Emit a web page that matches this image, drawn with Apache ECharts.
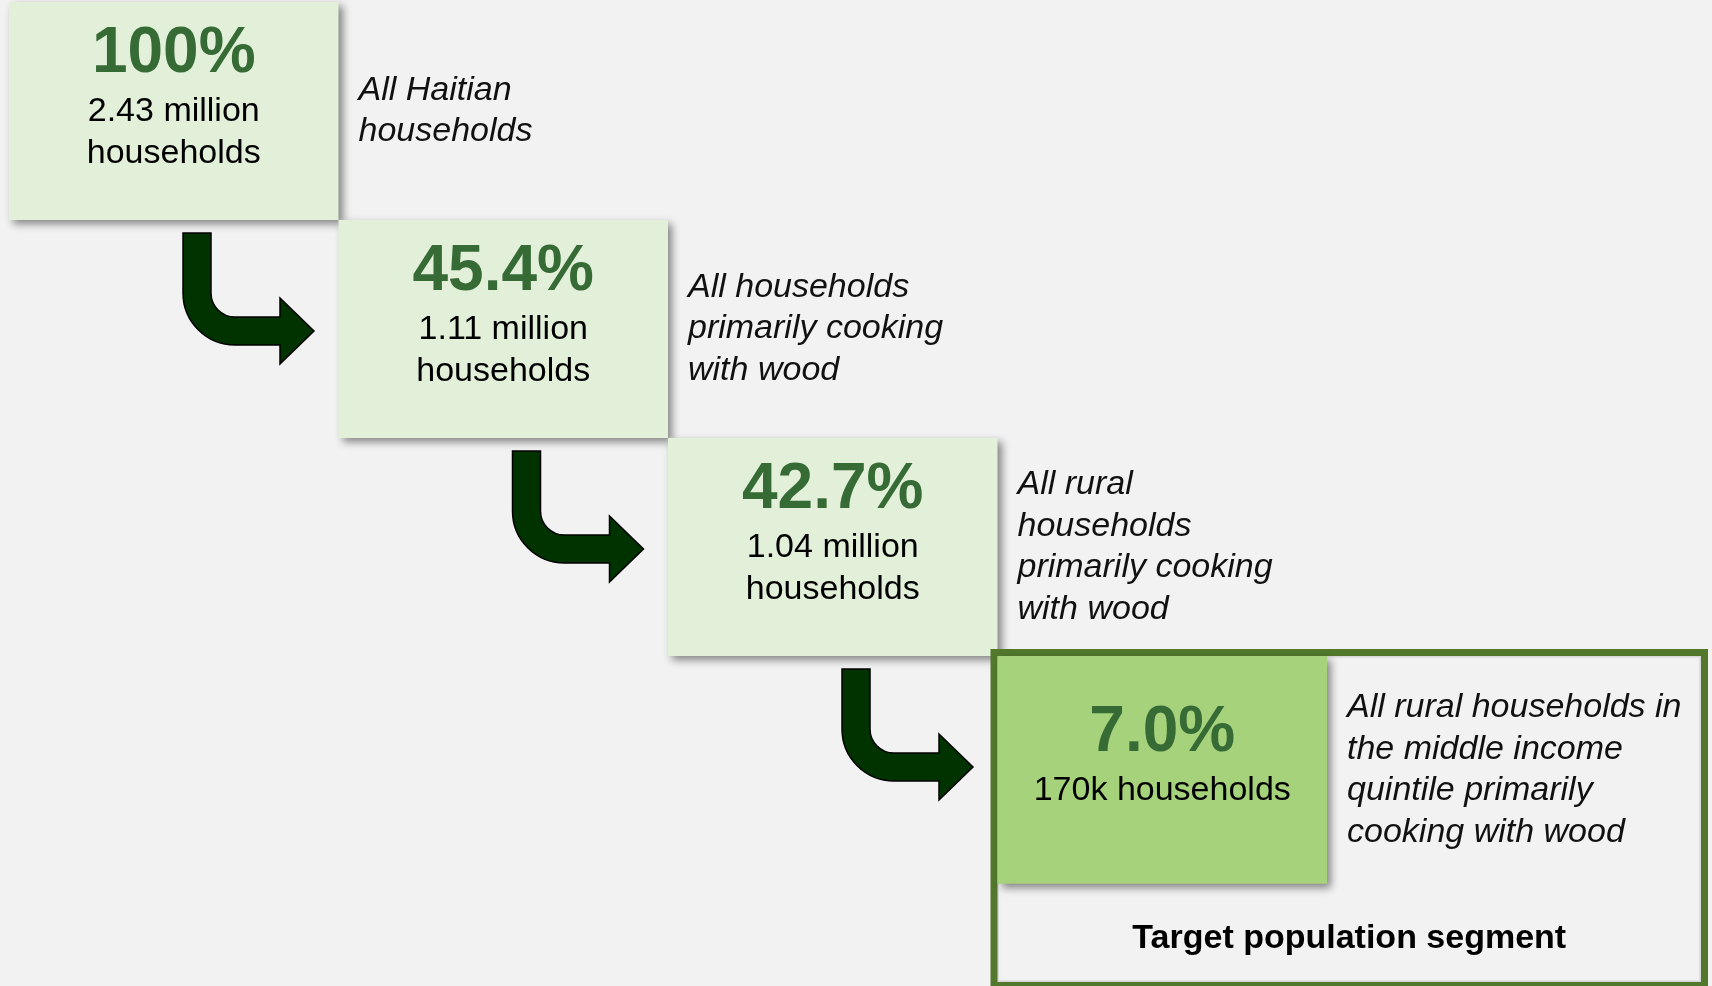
<!DOCTYPE html>
<html>
<head>
<meta charset="utf-8">
<title>Haiti household segmentation</title>
<script src="https://cdn.jsdelivr.net/npm/echarts@6/dist/echarts.min.js"></script>
<style>
  html, body { margin: 0; padding: 0; background: #f2f2f2; }
  #chart { width: 1712px; height: 986px; }
</style>
</head>
<body>
<div id="chart"></div>
<script>
// Funnel steps: share of all Haitian households at each filter
const shareOfHouseholds = [100, 45.4, 42.7, 7.0];
const householdCounts = ['2.43 million', '1.11 million', '1.04 million', '170k'];
const segmentDescriptions = [
  'All Haitian\nhouseholds',
  'All households\nprimarily cooking\nwith wood',
  'All rural\nhouseholds\nprimarily cooking\nwith wood',
  'All rural households in\nthe middle income\nquintile primarily\ncooking with wood'
];
const targetLabel = 'Target population segment';
const targetStep = 3;

const FONT = '"Liberation Sans", Arial, Helvetica, sans-serif';
const PCT_COLOR = '#376b35';

function pctText(v) {
  return (v >= 100 ? String(v) : v.toFixed(1)) + '%';
}
function countLines(c) {
  return c.indexOf('million') >= 0 ? [c, 'households'] : [c + ' households'];
}

// Curved "down then right" arrow, anchored at the top-left of its stem
function arrowPath(x, y) {
  const p = (dx, dy) => (x + dx) + ' ' + (y + dy);
  return 'M' + p(0, 0) + ' L' + p(28, 0) + ' L' + p(28, 60) +
    ' A24 24 0 0 0 ' + p(52, 84) + ' L' + p(97, 84) + ' L' + p(97, 65) +
    ' L' + p(131, 98) + ' L' + p(97, 131) + ' L' + p(97, 112) +
    ' L' + p(52, 112) + ' A52 52 0 0 1 ' + p(0, 60) + ' Z';
}

function renderItem(params, api) {
  const i = params.dataIndex;
  const sx = api.value(0), sy = api.value(1);
  const tl = api.coord([sx, sy]);
  const br = api.coord([sx + 1, sy + 1]);
  const isTarget = i === targetStep;
  const w = br[0] - tl[0];
  const h = (br[1] - tl[1]) * (isTarget ? 1.045 : 1);
  const children = [];

  if (isTarget) {
    const fx = tl[0] - 3.5, fy = tl[1] - 3.5;
    const fr = api.getWidth() - 7.5, fb = api.getHeight() - 0.5;
    // soft inner shade along the frame
    children.push({
      type: 'rect',
      shape: { x: fx + 4, y: fy + 4, width: fr - fx - 8, height: fb - fy - 8 },
      style: {
        fill: 'rgba(0,0,0,0)', stroke: 'rgba(0,0,0,0.10)', lineWidth: 2,
        shadowBlur: 5, shadowColor: 'rgba(0,0,0,0.35)'
      }
    });
    children.push({
      type: 'rect',
      shape: { x: fx, y: fy, width: fr - fx, height: fb - fy },
      style: { fill: 'rgba(0,0,0,0)', stroke: '#52782c', lineWidth: 7 }
    });
    children.push({
      type: 'text',
      style: {
        text: targetLabel,
        x: (fx + fr) / 2,
        y: (tl[1] + h + fb - 3.5) / 2 + 6,
        align: 'center', verticalAlign: 'middle',
        font: 'bold 34px ' + FONT, fill: '#000'
      }
    });
  }

  children.push({
    type: 'rect',
    shape: { x: tl[0], y: tl[1], width: w, height: h },
    style: {
      fill: isTarget ? '#a5d27a' : '#e2efd9',
      shadowBlur: 8, shadowOffsetX: 4, shadowOffsetY: 4,
      shadowColor: 'rgba(0,0,0,0.45)'
    }
  });

  const cx = tl[0] + w / 2;
  const cy = tl[1] + h / 2 - 14;
  const lines = countLines(householdCounts[i]);
  const pctY = lines.length > 1 ? cy - 43 : cy - 23;
  children.push({
    type: 'text',
    style: {
      text: pctText(api.value(2)), x: cx, y: pctY,
      align: 'center', verticalAlign: 'middle',
      font: 'bold 64px ' + FONT, fill: PCT_COLOR
    }
  });
  lines.forEach((t, k) => {
    children.push({
      type: 'text',
      style: {
        text: t, x: cx, y: pctY + 58 + k * 42,
        align: 'center', verticalAlign: 'middle',
        font: '34px ' + FONT, fill: '#000'
      }
    });
  });

  children.push({
    type: 'text',
    style: {
      text: segmentDescriptions[i],
      x: br[0] + 20, y: tl[1] + h / 2,
      align: 'left', verticalAlign: 'middle',
      font: 'italic 34px ' + FONT, lineHeight: 41.5, fill: '#111'
    }
  });

  if (i < shareOfHouseholds.length - 1) {
    children.push({
      type: 'path',
      shape: { pathData: arrowPath(tl[0] + 174, tl[1] + h + 13) },
      style: { fill: '#003300', stroke: '#000', lineWidth: 1.5 }
    });
  }

  return { type: 'group', children: children };
}

const chart = echarts.init(document.getElementById('chart'), null, { renderer: 'canvas' });
chart.setOption({
  backgroundColor: '#f2f2f2',
  animation: false,
  grid: { left: 9, right: 0, top: 2, bottom: 0 },
  xAxis: { type: 'value', min: 0, max: 5.1684, show: false },
  yAxis: { type: 'value', min: 0, max: 4.5138, inverse: true, show: false },
  series: [{
    type: 'custom',
    renderItem: renderItem,
    clip: false,
    silent: true,
    encode: { x: 0, y: 1 },
    data: shareOfHouseholds.map((v, i) => [i, i, v])
  }]
});
</script>
</body>
</html>
